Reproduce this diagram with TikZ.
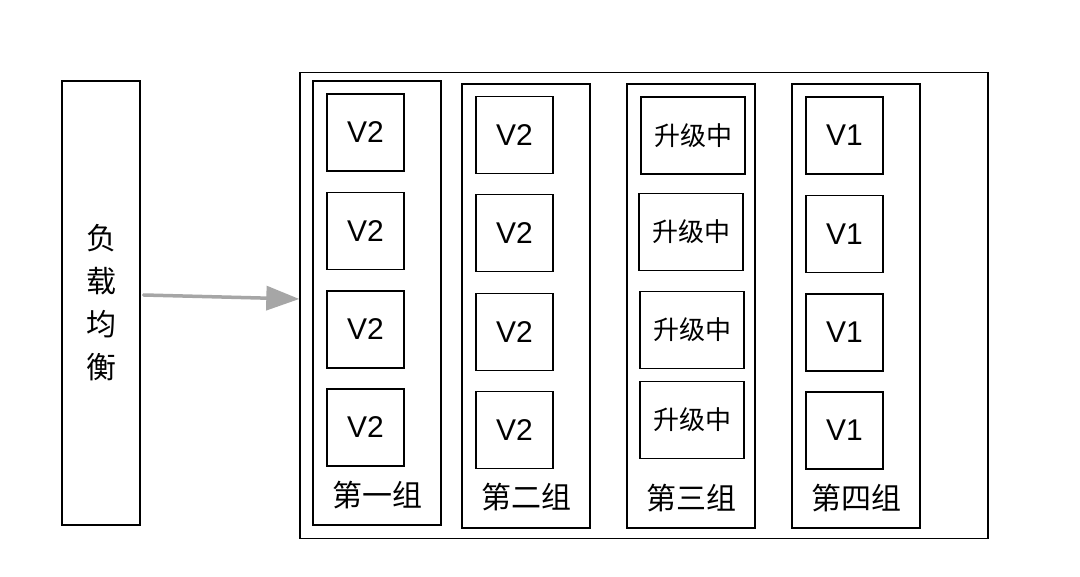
\documentclass[tikz,border=0pt]{standalone}
\usepackage{fontspec}
\setmainfont{Liberation Sans}
\newfontfamily\cjk{Noto Sans CJK SC}
\usetikzlibrary{arrows.meta}
\begin{document}
\begin{tikzpicture}[x=1pt,y=-1pt,
  frame/.style={draw,line width=1.4pt,shape=rectangle,inner sep=0pt},
  ver/.style={frame,minimum size=77pt,font=\fontsize{30}{30}\selectfont},
  upg/.style={frame,minimum width=104pt,minimum height=77pt,font=\cjk\fontsize{26}{26}\selectfont},
  grp/.style={frame,minimum width=128pt,minimum height=444pt},
  lbl/.style={font=\cjk\fontsize{30}{30}\selectfont}]
\fill[white] (0,0) rectangle (1080,577);
\useasboundingbox (0,0) rectangle (1080,577);
\node[frame,minimum width=78pt,minimum height=444pt,align=center,font=\cjk\fontsize{30}{43}\selectfont](LB) at (101,303){负\\载\\均\\衡};
\node[frame,minimum width=688pt,minimum height=466pt](Pool) at (644,305.5){};
\draw[-{Triangle[length=33pt,width=24pt]},line width=3.5pt,line cap=round,color=black!35] ([yshift=8pt,xshift=3pt]LB.east) -- ([yshift=6.5pt]Pool.west);
% group 1
\node[grp](G1) at (377,303){};
\node[ver](A1) at (365.5,132.5){V2};
\node[ver](A2) at (365.5,231){V2};
\node[ver](A3) at (365.5,329.5){V2};
\node[ver](A4) at (365.5,427.5){V2};
\node[lbl](L1) at (377,495){第一组};
% group 2
\node[grp](G2) at (526,306){};
\node[ver](B1) at (514.5,135){V2};
\node[ver](B2) at (514.5,233){V2};
\node[ver](B3) at (514.5,332){V2};
\node[ver](B4) at (514.5,430){V2};
\node[lbl](L2) at (526,497){第二组};
% group 3
\node[grp](G3) at (691,306){};
\node[upg](C1) at (693,135.5){升级中};
\node[upg](C2) at (691,232){升级中};
\node[upg](C3) at (692,330){升级中};
\node[upg](C4) at (692,420){升级中};
\node[lbl](L3) at (691,498){第三组};
% group 4
\node[grp](G4) at (856,306){};
\node[ver](D1) at (844.5,135.5){V1};
\node[ver](D2) at (844.5,234){V1};
\node[ver](D3) at (844.5,332.5){V1};
\node[ver](D4) at (844.5,430.5){V1};
\node[lbl](L4) at (856,498){第四组};
\end{tikzpicture}
\end{document}
